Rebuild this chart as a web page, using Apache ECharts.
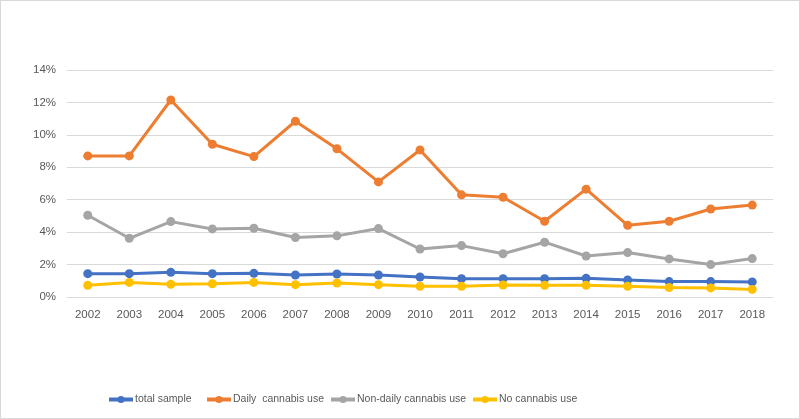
<!DOCTYPE html>
<html>
<head>
<meta charset="utf-8">
<script src="https://cdn.jsdelivr.net/npm/echarts@6/dist/echarts.min.js"></script>
<style>
html,body{margin:0;padding:0;background:#fff;}
#c{width:798px;height:417px;border:1px solid #d9d9d9;}
</style>
</head>
<body>
<div id="c"></div>
<script>
const years = ['2002','2003','2004','2005','2006','2007','2008','2009','2010','2011','2012','2013','2014','2015','2016','2017','2018'];
const totalSample = [1.44,1.44,1.52,1.44,1.46,1.36,1.42,1.36,1.23,1.13,1.13,1.13,1.15,1.05,0.95,0.95,0.93];
const dailyUse = [8.7,8.7,12.15,9.42,8.66,10.84,9.14,7.1,9.07,6.3,6.15,4.67,6.65,4.42,4.67,5.43,5.67];
const nonDailyUse = [5.04,3.62,4.65,4.2,4.24,3.67,3.77,4.22,2.96,3.17,2.67,3.38,2.53,2.74,2.35,2.0,2.37];
const noUse = [0.72,0.9,0.78,0.82,0.9,0.76,0.86,0.76,0.66,0.66,0.74,0.72,0.72,0.66,0.58,0.56,0.47];
const seriesNames = ['total sample','Daily  cannabis use','Non-daily cannabis use','No cannabis use'];
const colors = ['#4472C4','#ED7D31','#A5A5A5','#FFC000'];
const dataSets = [totalSample, dailyUse, nonDailyUse, noUse];
const legendLefts = [101, 199, 323, 465];

const chart = echarts.init(document.getElementById('c'));
const font = 'Liberation Sans, Arial, sans-serif';
chart.setOption({
  animation: false,
  color: colors,
  grid: {left: 66, right: 26, top: 69, bottom: 121},
  legend: seriesNames.map((n, i) => ({
    left: legendLefts[i], top: 388,
    itemWidth: 24, itemHeight: 9,
    lineStyle: {width: 4},
    textStyle: {color: '#595959', fontSize: 10.5, fontFamily: font, padding: [0,0,0,-3]},
    data: [n]
  })),
  xAxis: {
    type: 'category', data: years, boundaryGap: true,
    axisLine: {lineStyle: {color: '#D9D9D9'}},
    axisTick: {show: false},
    axisLabel: {color: '#595959', fontSize: 11.5, fontFamily: font, margin: 12}
  },
  yAxis: {
    type: 'value', min: 0, max: 14, interval: 2,
    axisLine: {show: false}, axisTick: {show: false},
    splitLine: {lineStyle: {color: '#D9D9D9'}},
    axisLabel: {color: '#595959', fontSize: 11.5, fontFamily: font, margin: 11, formatter: '{value}%'}
  },
  series: dataSets.map((d, i) => ({
    name: seriesNames[i], type: 'line', data: d,
    symbol: 'circle', symbolSize: 9,
    lineStyle: {width: 3, color: colors[i]},
    itemStyle: {color: colors[i]}
  }))
});
</script>
</body>
</html>
